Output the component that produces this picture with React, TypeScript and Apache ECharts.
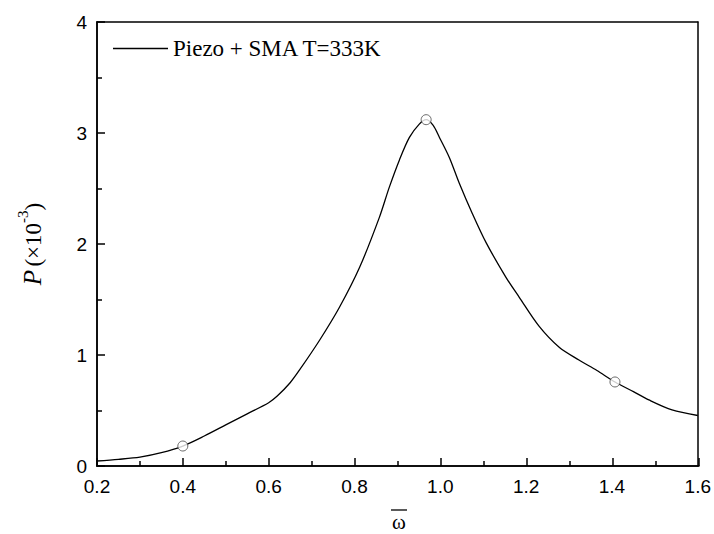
import React, { useEffect, useRef } from "react";
import * as echarts from "echarts";

const seriesName = "Piezo + SMA T=333K";
const omega = [0.2, 0.25, 0.3, 0.35, 0.4, 0.45, 0.5, 0.55, 0.6, 0.62, 0.65, 0.672, 0.719, 0.765, 0.812, 0.858, 0.881, 0.905, 0.928, 0.951, 0.967, 0.983, 0.998, 1.021, 1.044, 1.074, 1.107, 1.153, 1.184, 1.23, 1.277, 1.323, 1.365, 1.407, 1.45, 1.486, 1.54, 1.6];
const power = [0.045, 0.06, 0.08, 0.12, 0.18, 0.27, 0.37, 0.47, 0.57, 0.63, 0.75, 0.865, 1.135, 1.43, 1.79, 2.24, 2.51, 2.76, 2.96, 3.08, 3.12, 3.07, 2.96, 2.78, 2.55, 2.28, 2.01, 1.7, 1.52, 1.26, 1.07, 0.955, 0.86, 0.757, 0.67, 0.595, 0.505, 0.455];
const markerOmega = [0.4, 0.967, 1.407];
const markerPower = [0.18, 3.12, 0.757];
const xTicks = { min: 0.2, max: 1.6, interval: 0.2 };
const yTicks = { min: 0, max: 4, interval: 1 };

export default function App() {
  const ref = useRef<HTMLDivElement>(null);
  useEffect(() => {
    if (!ref.current) return;
    const chart = echarts.init(ref.current, null, { renderer: "svg" });
    const W = 714, H = 534, L = 97, T = 22, R = 15, B = 68;
    const gridH = H - T - B;
    const mkLine = () => ({ show: true, onZero: false, lineStyle: { color: "#000", width: 1.5 } });
    const label = { color: "#000", fontFamily: "Liberation Sans, Arial", fontSize: 19 };
    const noTicks = () => ({ axisTick: { show: false }, minorTick: { show: false }, splitLine: { show: false } });
    const frame = () => ({ axisLine: mkLine(), ...noTicks(), axisLabel: { show: false } });
    const tickAxis = () => ({
      axisLine: mkLine(),
      axisTick: { show: true, inside: false, length: 8, lineStyle: { color: "#000", width: 1.5 } },
      minorTick: { show: true, splitNumber: 2, length: 5, lineStyle: { color: "#000", width: 1.5 } },
      splitLine: { show: false },
      axisLabel: { show: true, formatter: () => "" },
    });
    chart.setOption({
      animation: false,
      backgroundColor: "#fff",
      grid: [
        { left: L, top: T, right: R, bottom: B },
        { left: L, right: R, top: H - B, height: 1 },
        { left: L - 1, width: 1, top: T, height: gridH },
      ],
      legend: {
        show: true,
        left: 108,
        top: 32,
        icon: "rect",
        itemWidth: 55,
        itemHeight: 1.3,
        itemGap: 6,
        data: [seriesName],
        textStyle: { color: "#000", fontFamily: "Liberation Serif, Times New Roman", fontSize: 23 },
      },
      xAxis: [
        {
          gridIndex: 0,
          type: "value",
          position: "bottom",
          min: xTicks.min,
          max: xTicks.max,
          interval: xTicks.interval,
          axisLine: mkLine(),
          ...noTicks(),
          axisLabel: { ...label, margin: 11, formatter: (v: number) => v.toFixed(1) },
        },
        { gridIndex: 0, type: "value", position: "top", min: xTicks.min, max: xTicks.max, interval: xTicks.interval, ...frame() },
        { gridIndex: 1, type: "value", position: "top", min: xTicks.min, max: xTicks.max, interval: xTicks.interval, ...tickAxis() },
        { gridIndex: 2, type: "value", show: false, min: 0, max: 1 },
      ],
      yAxis: [
        {
          gridIndex: 0,
          type: "value",
          position: "left",
          min: yTicks.min,
          max: yTicks.max,
          interval: yTicks.interval,
          axisLine: mkLine(),
          ...noTicks(),
          axisLabel: { ...label, margin: 10 },
          name: "{i|P} {n|(×10}{s|-3}{n|)}",
          nameLocation: "middle",
          nameRotate: 90,
          nameGap: 52,
          nameTextStyle: {
            rich: {
              i: { fontFamily: "Liberation Serif", fontStyle: "italic", fontSize: 25, color: "#000", verticalAlign: "bottom", lineHeight: 30 },
              n: { fontFamily: "Liberation Serif", fontSize: 23, color: "#000", verticalAlign: "bottom", lineHeight: 30 },
              s: { fontFamily: "Liberation Serif", fontSize: 15, color: "#000", verticalAlign: "top", lineHeight: 30 },
            },
          },
        },
        { gridIndex: 0, type: "value", position: "right", min: yTicks.min, max: yTicks.max, interval: yTicks.interval, ...frame() },
        { gridIndex: 1, type: "value", show: false, min: 0, max: 1 },
        { gridIndex: 2, type: "value", position: "right", min: yTicks.min, max: yTicks.max, interval: yTicks.interval, ...tickAxis() },
      ],
      graphic: [
        { type: "text", x: 399, y: 522, style: { text: "ω", font: "21px Liberation Serif", fill: "#000", textAlign: "center", textVerticalAlign: "middle" } },
        { type: "line", shape: { x1: 391, y1: 510, x2: 407, y2: 510 }, style: { stroke: "#000", lineWidth: 1.3 } },
      ],
      series: [
        {
          name: seriesName,
          type: "line",
          xAxisIndex: 0,
          yAxisIndex: 0,
          data: omega.map((x, i) => [x, power[i]]),
          smooth: 0.3,
          showSymbol: false,
          lineStyle: { color: "#000", width: 1.3 },
          itemStyle: { color: "#000" },
        },
        {
          type: "scatter",
          xAxisIndex: 0,
          yAxisIndex: 0,
          data: markerOmega.map((x, i) => [x, markerPower[i]]),
          symbol: "circle",
          symbolSize: 10,
          itemStyle: { color: "#fff", borderColor: "#444", borderWidth: 1 },
          z: 5,
        },
      ],
    });
    return () => chart.dispose();
  }, []);
  return <div ref={ref} style={{ position: "absolute", left: 0, top: 0, width: 714, height: 534 }} />;
}
